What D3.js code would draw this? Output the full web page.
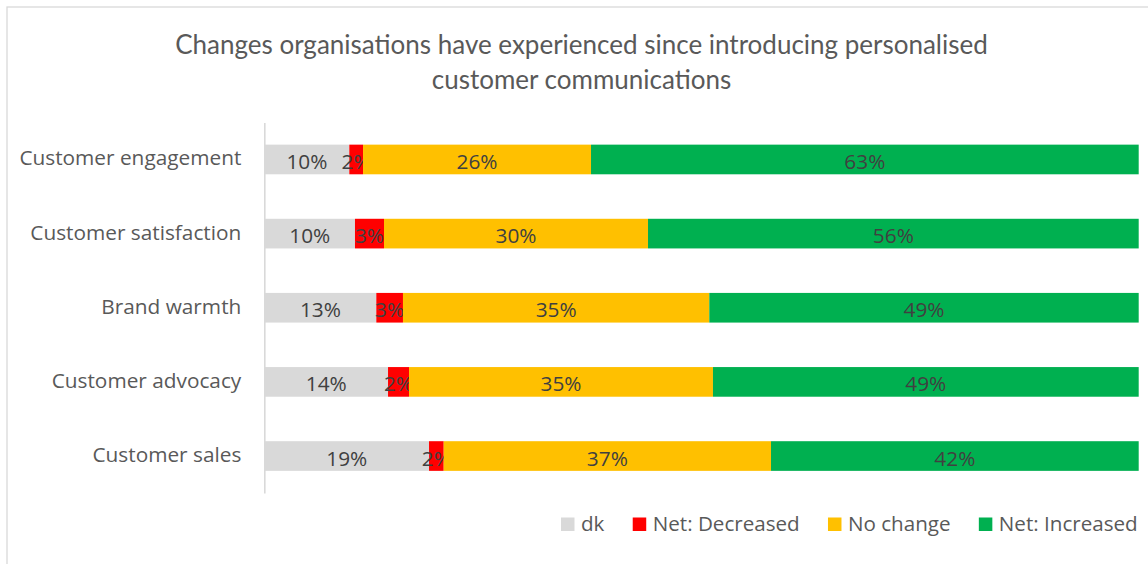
<!DOCTYPE html>
<html>
<head>
<meta charset="utf-8">
<script src="https://cdn.jsdelivr.net/npm/d3@7"></script>
<style>
  html, body { margin: 0; padding: 0; background: #ffffff; }
  svg { display: block; }
</style>
</head>
<body>
<svg id="chart" width="1148" height="564"></svg>
<script>
// Survey results: share of organisations reporting each outcome (percent)
const categories = [
  "Customer engagement",
  "Customer satisfaction",
  "Brand warmth",
  "Customer advocacy",
  "Customer sales"
];
const seriesNames = ["dk", "Net: Decreased", "No change", "Net: Increased"];
const dkValues        = [9.70, 10.35, 12.79, 14.13, 18.82];
const decreasedValues = [1.57, 3.32, 3.05, 2.40, 1.68];
const noChangeValues  = [26.08, 30.20, 35.04, 34.77, 37.44];
const increasedValues = [62.65, 56.13, 49.12, 48.70, 42.06];
const seriesColors = ["#d9d9d9", "#ff0000", "#ffc000", "#00b050"];
const titleLines = [
  "Changes organisations have experienced since introducing personalised",
  "customer communications"
];

const seriesValues = [dkValues, decreasedValues, noChangeValues, increasedValues];
const rows = categories.map((c, i) => {
  const r = { category: c };
  seriesNames.forEach((s, k) => { r[s] = seriesValues[k][i]; });
  return r;
});

const FONT = "'Open Sans', 'Noto Sans', sans-serif";
const svg = d3.select("#chart");

// chart-area frame
svg.append("rect")
  .attr("x", 7).attr("y", 7)
  .attr("width", 1160).attr("height", 580)
  .attr("fill", "#ffffff")
  .attr("stroke", "#d9d9d9")
  .attr("stroke-width", 1.3);

// title
const title = svg.append("text")
  .attr("text-anchor", "middle")
  .attr("font-family", "Lato, 'Open Sans', sans-serif")
  .attr("font-size", 26)
  .attr("fill", "#595959");
title.selectAll("tspan")
  .data(titleLines)
  .join("tspan")
  .attr("x", 581.5)
  .attr("y", (d, i) => 54 + i * 34.5)
  .text(d => d);

// scales
const x = d3.scaleLinear().domain([0, 100]).range([264.5, 1138.7]);
const y = d3.scaleBand()
  .domain(categories)
  .range([122.4, 493.1])
  .paddingInner(0.6)
  .paddingOuter(0.3);
const color = d3.scaleOrdinal().domain(seriesNames).range(seriesColors);

const stacked = d3.stack().keys(seriesNames)(rows);

// bars
const layers = svg.append("g")
  .selectAll("g")
  .data(stacked)
  .join("g")
  .attr("fill", d => color(d.key));

layers.selectAll("rect")
  .data(d => d)
  .join("rect")
  .attr("x", d => x(d[0]))
  .attr("y", d => y(d.data.category))
  .attr("width", d => x(d[1]) - x(d[0]))
  .attr("height", y.bandwidth());

// vertical category axis
const yAxis = svg.append("g")
  .attr("transform", `translate(${x(0) - 0.2},0)`)
  .call(d3.axisLeft(y).tickSizeInner(0).tickSizeOuter(0).tickPadding(23));
yAxis.select(".domain")
  .attr("stroke", "#d9d9d9")
  .attr("stroke-width", 1.6);
yAxis.selectAll(".tick text")
  .attr("dy", null)
  .attr("y", 6)
  .attr("font-family", FONT)
  .attr("font-size", 20.8)
  .attr("fill", "#595959");

// data labels
const fmt = v => Math.round(v) + "%";
layers.selectAll("text")
  .data(d => d)
  .join("text")
  .attr("x", d => (x(d[0]) + x(d[1])) / 2)
  .attr("y", d => y(d.data.category) + y.bandwidth() / 2 + 9.5)
  .attr("text-anchor", "middle")
  .attr("font-family", FONT)
  .attr("font-size", 20.8)
  .attr("fill", "#404040")
  .text(d => fmt(d[1] - d[0]));

// legend
const legend = svg.append("g");
let lx = 561;
seriesNames.forEach((name) => {
  const item = legend.append("g").attr("transform", `translate(${lx},0)`);
  item.append("rect")
    .attr("x", 0).attr("y", 517.5)
    .attr("width", 13.5).attr("height", 13.5)
    .attr("fill", color(name));
  const t = item.append("text")
    .attr("x", 20).attr("y", 531)
    .attr("font-family", FONT)
    .attr("font-size", 20.6)
    .attr("fill", "#595959")
    .text(name);
  lx += 20 + t.node().getComputedTextLength() + 28.3;
});
</script>
</body>
</html>
